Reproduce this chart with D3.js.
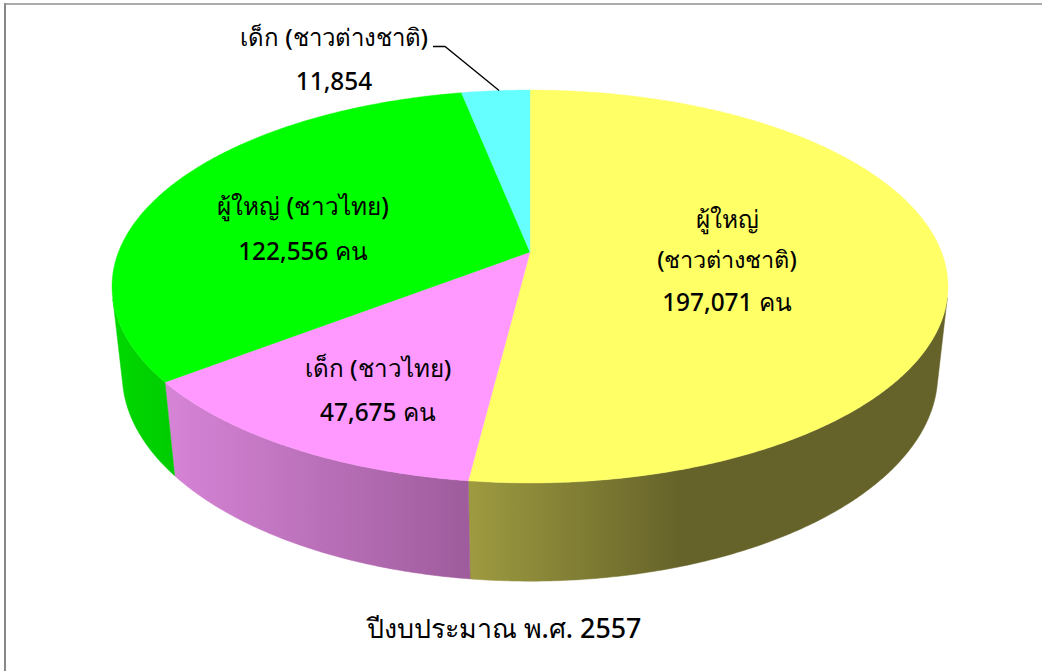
<!DOCTYPE html>
<html><head><meta charset="utf-8"><script src="https://cdn.jsdelivr.net/npm/d3@7"></script>
<style>html,body{margin:0;background:#fff;overflow:hidden}svg{display:block}text{font-family:"Noto Sans",sans-serif;font-weight:500;text-anchor:middle;fill:#000}</style></head>
<body><svg width="1042" height="671"></svg><script>
const categories=["ผู้ใหญ่ (ชาวต่างชาติ)","เด็ก (ชาวไทย)","ผู้ใหญ่ (ชาวไทย)","เด็ก (ชาวต่างชาติ)"];
const values=[197071,47675,122556,11854];
const topColors=["#ffff66","#ff99ff","#00ff00","#66ffff"];
const sideLeft=["#9d9a40","#d583d5","#00d800","#44aaaa"];
const sideRight=["#66632a","#9e5c9c","#00cc00","#44aaaa"];
const labelLines=[["ผู้ใหญ่","(ชาวต่างชาติ)","197,071 คน"],["เด็ก (ชาวไทย)","47,675 คน"],["ผู้ใหญ่ (ชาวไทย)","122,556 คน"],["เด็ก (ชาวต่างชาติ)","11,854"]];
const labelX=[727,378,303,334];
const labelY=[[228,268,311],[377,421],[215,260],[46,90]];
const labelSize=[[24.4,23.5,24.4],[24.2,24.4],[24.4,24.4],[24,24.4]];
const title="ปีงบประมาณ พ.ศ. 2557";

const cx=530,cy=252,A=411.5,B=190.4,K=0.1756,D=89,E=0.0244;
const top3=a=>{const w=1+K*Math.cos(a);return [cx+A*Math.sin(a)/w,cy-B*Math.cos(a)/w];};
const bot3=a=>{const w=1+K*Math.cos(a)+E;return [cx+A*Math.sin(a)/w,cy+(D-B*Math.cos(a))/w];};

const svg=d3.select("svg");
const defs=svg.append("defs");
const arcs=d3.pie().sort(null)(values);
const line=d3.line();
const step=Math.PI/360;
const samples=(s,e)=>{const n=Math.max(2,Math.ceil((e-s)/step));return d3.range(n+1).map(i=>s+(e-s)*i/n);};
const quadArea=(a,b)=>d3.polygonArea([top3(a),top3(b),bot3(b),bot3(a)]);
const frontSign=Math.sign(quadArea(Math.PI-0.01,Math.PI+0.01));

// frame
svg.append("path").attr("d",line([[5,671],[5,3]])).attr("fill","none").attr("stroke","#888").attr("stroke-width",2);
svg.append("path").attr("d",line([[4,4],[1042,4]])).attr("fill","none").attr("stroke","#909090").attr("stroke-width",1.5);

// side walls: only the camera-facing part of each slice's rim
const gradX=[[470,680],[174,470],[115,174],[460,530]];
arcs.forEach((d,i)=>{
  const g=defs.append("linearGradient").attr("id","side"+i).attr("gradientUnits","userSpaceOnUse")
    .attr("x1",gradX[i][0]).attr("x2",gradX[i][1]).attr("y1",0).attr("y2",0);
  g.append("stop").attr("offset",0).attr("stop-color",sideLeft[i]);
  g.append("stop").attr("offset",1).attr("stop-color",sideRight[i]);
  const as=samples(d.startAngle,d.endAngle);
  const vis=as.filter((a,k)=>k<as.length-1 ? Math.sign(quadArea(a,as[k+1]))===frontSign : Math.sign(quadArea(as[k-1],a))===frontSign);
  if(vis.length<2) return;
  const pts=vis.map(top3).concat(vis.slice().reverse().map(bot3));
  svg.append("path").attr("d",line(pts)+"Z").attr("fill","url(#side"+i+")").attr("stroke","url(#side"+i+")").attr("stroke-width",0.5);
});

// top face
arcs.forEach((d,i)=>{
  const pts=[[cx,cy]].concat(samples(d.startAngle,d.endAngle).map(top3));
  svg.append("path").attr("d",line(pts)+"Z").attr("fill",topColors[i]).attr("stroke",topColors[i]).attr("stroke-width",0.4);
});

// labels
labelLines.forEach((ls,i)=>ls.forEach((t,j)=>{
  svg.append("text").attr("x",labelX[i]).attr("y",labelY[i][j]).style("font-size",labelSize[i][j]+"px").text(t);
}));
svg.append("text").attr("x",504).attr("y",638).style("font-size","26.8px").text(title);

// leader line
const tip=top3(arcs[3].startAngle+(arcs[3].endAngle-arcs[3].startAngle)*0.55);
svg.append("path").attr("d",line([[433,46.5],[445,46.5],tip])).attr("fill","none").attr("stroke","#000").attr("stroke-width",1.3);
</script></body></html>
